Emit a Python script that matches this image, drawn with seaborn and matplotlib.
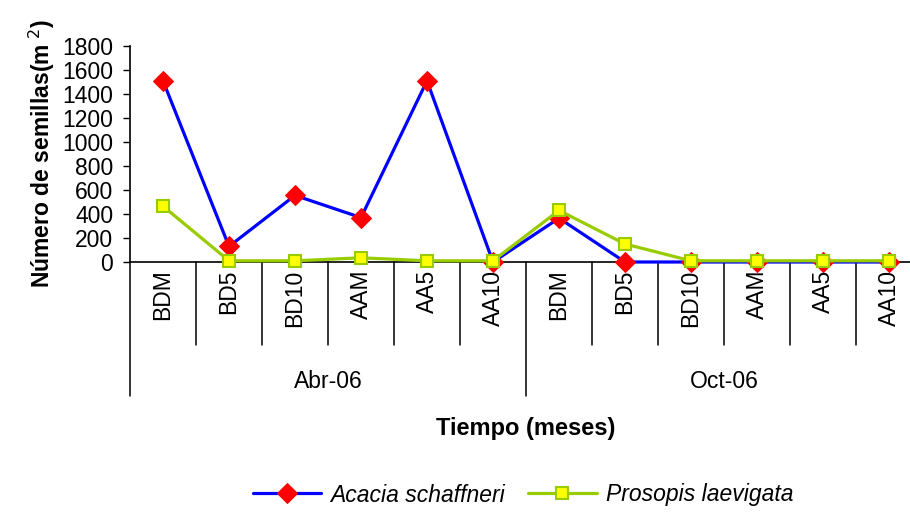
import matplotlib
matplotlib.use("Agg")
import matplotlib.pyplot as plt
import matplotlib.transforms as mtransforms
import numpy as np
import pandas as pd
import seaborn as sns

sns.set_style("white")
plt.rcParams['font.family'] = ['Liberation Sans', 'DejaVu Sans']
plt.rcParams['text.color'] = 'black'
plt.rcParams['ytick.color'] = 'black'
plt.rcParams['axes.labelcolor'] = 'black'

# data
sites = ["BDM", "BD5", "BD10", "AAM", "AA5", "AA10"]
months = ["Abr-06", "Oct-06"]
acacia = [1510, 130, 555, 370, 1510, 0, 365, 0, 0, 0, 0, 0]
prosopis = [465, 10, 10, 35, 10, 10, 430, 150, 10, 10, 10, 10]

categories = [s for m in months for s in sites]
pos = np.arange(len(categories))
df = pd.DataFrame({'pos': pos, 'acacia': acacia, 'prosopis': prosopis})

fig = plt.figure(figsize=(9.1, 5.12), dpi=100)
ax = fig.add_axes([130 / 910, 1 - 262 / 512, 792 / 910, 216 / 512])

sns.lineplot(data=df, x='pos', y='acacia', ax=ax, color='#0000FF', lw=2.3,
             marker='D', markersize=10, markerfacecolor='#FF0000',
             markeredgecolor='#FF0000', label='Acacia schaffneri', clip_on=False, zorder=3)
sns.lineplot(data=df, x='pos', y='prosopis', ax=ax, color='#99CC00', lw=2.3,
             marker='s', markersize=9, markerfacecolor='#FFFF00',
             markeredgecolor='#99CC00', markeredgewidth=1.5,
             label='Prosopis laevigata', clip_on=False, zorder=4)

ax.set_xlim(-0.5, len(categories) - 0.5)
ax.set_ylim(0, 1800)
ax.set_yticks(np.arange(0, 1801, 200))
ax.tick_params(axis='y', labelsize=16.5, direction='out', length=5, width=1, left=True, pad=7)
ax.set_xticks([])
ax.set_xlabel('')
ax.set_ylabel('Número de semillas(m$^{\\ 2}$)', fontsize=16.5, fontweight='bold', labelpad=4)
ax.get_legend().remove()

for s in ['top', 'right']:
    ax.spines[s].set_visible(False)
for s in ['left', 'bottom']:
    ax.spines[s].set_linewidth(1.2)
    ax.spines[s].set_color('black')

# multi-level category axis
trans = mtransforms.blended_transform_factory(ax.transData, ax.transAxes)
for i, c in enumerate(categories):
    ax.text(i, -0.035, c, rotation=90, ha='center', va='top', fontsize=16.5, transform=trans)
for i in range(len(categories) + 1):
    bottom = -0.62 if i % len(sites) == 0 else -0.385
    ax.plot([i - 0.5, i - 0.5], [0, bottom], color='black', lw=1.1,
            transform=trans, clip_on=False)
for j, m in enumerate(months):
    ax.text(j * len(sites) + (len(sites) - 1) / 2, -0.555, m, ha='center', va='center',
            fontsize=16.5, transform=trans)

fig.text(526 / 910, 1 - 428 / 512, 'Tiempo (meses)', ha='center', va='center',
         fontsize=17, fontweight='bold')

handles, labels = ax.get_legend_handles_labels()
fig.legend(handles, labels, loc='center', bbox_to_anchor=(523 / 910, 1 - 495 / 512),
           ncol=2, frameon=False, prop={'style': 'italic', 'size': 16.5},
           handlelength=3, columnspacing=1.0, handletextpad=0.4)

fig.savefig('out.png', dpi=100)
